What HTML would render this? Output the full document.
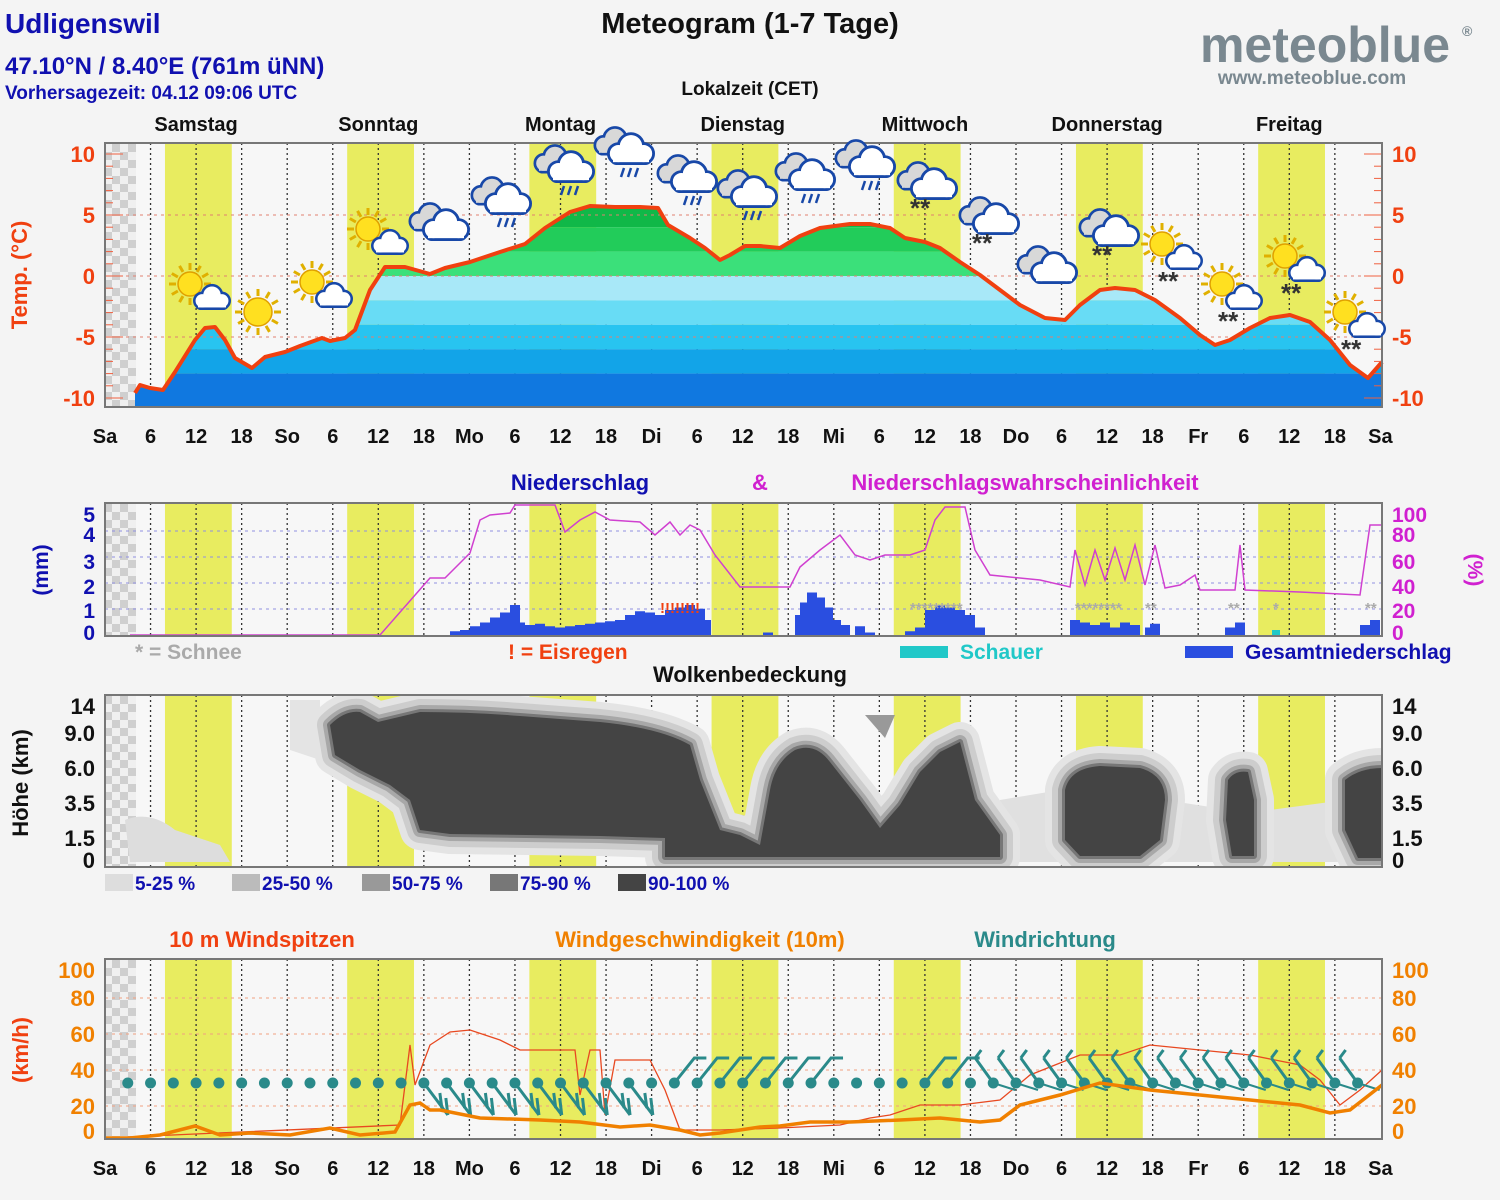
<!DOCTYPE html>
<html><head><meta charset="utf-8">
<style>
html,body{margin:0;padding:0;background:#f4f4f4;}
svg{display:block;font-family:"Liberation Sans",Arial,sans-serif;font-weight:bold;}
</style></head>
<body>
<svg id="s" width="1500" height="1200" viewBox="0 0 1500 1200" xmlns="http://www.w3.org/2000/svg">
<defs>
<pattern id="chk" width="16" height="16" patternUnits="userSpaceOnUse">
<rect width="16" height="16" fill="#f0f0f0"/><rect width="8" height="8" fill="#cfcfcf"/><rect x="8" y="8" width="8" height="8" fill="#cfcfcf"/>
</pattern>
<clipPath id="cc"><rect x="105" y="695" width="1277" height="172"/></clipPath>
</defs>
<rect width="1500" height="1200" fill="#f4f4f4"/>
<text x="5" y="33" font-size="28" fill="#1010b0">Udligenswil</text>
<text x="5" y="74" font-size="24" fill="#1010b0">47.10°N / 8.40°E (761m üNN)</text>
<text x="5" y="99" font-size="19" fill="#1010b0">Vorhersagezeit: 04.12 09:06 UTC</text>
<text x="750" y="33" font-size="29" text-anchor="middle" fill="#111">Meteogram (1-7 Tage)</text>
<text x="750" y="95" font-size="19" text-anchor="middle" fill="#111">Lokalzeit (CET)</text>
<text x="1325" y="62" font-size="50" text-anchor="middle" fill="#7a8890" font-weight="bold">meteoblue</text>
<text x="1462" y="36" font-size="14" fill="#7a8890">®</text>
<text x="1312" y="84" font-size="19" text-anchor="middle" fill="#7a8890">www.meteoblue.com</text>
<g id="g"></g>
</svg>
<script>
var NS="http://www.w3.org/2000/svg",G=document.getElementById('g');
function el(t,a,txt,par){var e=document.createElementNS(NS,t);for(var k in a)e.setAttribute(k,a[k]);if(txt!==undefined&&txt!==null)e.textContent=txt;(par||G).appendChild(e);return e;}
var X0=105,X1=1382,D=182.2,H=D/24;
function hx(h){return X0+h*H;}
var panels=[[143,407],[503,636],[695,867],[959,1139]];
var days=["Samstag","Sonntag","Montag","Dienstag","Mittwoch","Donnerstag","Freitag"];
var ab=["Sa","So","Mo","Di","Mi","Do","Fr","Sa"];
function frame(p,i){
 var y0=p[0],y1=p[1];
 el('rect',{x:X0,y:y0,width:X1-X0,height:y1-y0,fill:'#f7f7f7'});
 for(var d=0;d<7;d++){el('rect',{x:hx(d*24+7.9),y:y0,width:8.8*H,height:y1-y0,fill:'#e8ec60'});}
 el('rect',{x:X0,y:y0,width:31,height:y1-y0,fill:'url(#chk)'});
 for(var h=6;h<168;h+=6){el('line',{x1:hx(h),x2:hx(h),y1:y0,y2:y1,stroke:'#333','stroke-width':1.3,'stroke-dasharray':'2,3'});}
}
function border(p){el('rect',{x:X0,y:p[0],width:X1-X0,height:p[1]-p[0],fill:'none',stroke:'#777','stroke-width':2});}
function hdash(y,c){el('line',{x1:X0,x2:X1,y1:y,y2:y,stroke:c,'stroke-width':1,'stroke-dasharray':'3,4'});}
function xlabels(y){for(var h=0;h<=168;h+=6){var t=(h%24==0)?ab[h/24]:String(h%24);el('text',{x:hx(h),y:y,'font-size':20,'text-anchor':'middle',fill:'#111'},t);}}
function pts(a){return a.map(function(p){return p[0]+','+p[1]}).join(' ');}
panels.forEach(frame);
for(var d=0;d<7;d++)el('text',{x:hx(d*24+12),y:131,'font-size':20,'text-anchor':'middle',fill:'#111'},days[d]);
// ===== Temperature
function ty(t){return 276-12.2*t;}
var T=[[135,393],[140,385],[150,388],[163,390],[175,372],[195,340],[205,328],[215,327],[225,340],[235,358],[252,368],[265,357],[285,352],[300,346],[322,338],[330,341],[345,338],[355,330],[370,290],[385,267],[405,267],[430,274],[445,268],[470,262],[500,252],[525,244],[545,228],[570,212],[590,206],[615,207],[640,207],[658,208],[668,225],[690,238],[705,248],[720,260],[730,255],[745,246],[760,246],[780,248],[800,236],[820,228],[850,224],[870,224],[890,228],[905,238],[925,242],[940,248],[960,262],[980,275],[1000,290],[1020,305],[1045,318],[1065,320],[1080,305],[1100,290],[1115,288],[1135,290],[1155,300],[1180,318],[1200,335],[1215,345],[1230,340],[1250,328],[1270,318],[1290,315],[1310,322],[1330,340],[1350,365],[1368,378],[1382,362]];
var cp=document.createElementNS(NS,'clipPath');cp.id='tc';var pp=document.createElementNS(NS,'polygon');
pp.setAttribute('points',pts(T.concat([[1382,407],[135,407]])));cp.appendChild(pp);document.querySelector('defs').appendChild(cp);
var tg=el('g',{'clip-path':'url(#tc)'});
var bands=[[10,6,'#08a840'],[6,4,'#10b848'],[4,2,'#22cc5a'],[2,0,'#3be07a'],[0,-2,'#a8e8f8'],[-2,-4,'#68dcf5'],[-4,-6,'#28c4f0'],[-6,-8,'#12a4e8'],[-8,-12,'#1078e0']];
bands.forEach(function(b){el('rect',{x:105,y:ty(b[0]),width:1280,height:ty(b[1])-ty(b[0]),fill:b[2]},null,tg);});
[5,0,-5].forEach(function(t){hdash(ty(t),'#e08070');});
el('polyline',{points:pts(T),fill:'none',stroke:'#f04010','stroke-width':4,'stroke-linejoin':'round'});
for(var t=-10;t<=10;t++){el('line',{x1:X0,x2:X0+(t%5==0?18:8),y1:ty(t),y2:ty(t),stroke:'#f06040','stroke-width':1});el('line',{x1:X1,x2:X1-(t%5==0?18:8),y1:ty(t),y2:ty(t),stroke:'#f06040','stroke-width':1});}
border(panels[0]);
[10,5,0,-5,-10].forEach(function(t){el('text',{x:95,y:ty(t)+8,'font-size':22,'text-anchor':'end',fill:'#f04010'},String(t));el('text',{x:1392,y:ty(t)+8,'font-size':22,fill:'#f04010'},String(t));});
el('text',{x:0,y:0,'font-size':22,fill:'#f04010','text-anchor':'middle',transform:'translate(27,275) rotate(-90)'},'Temp. (°C)');
xlabels(443);
// icons
function sun(x,y,r){for(var i=0;i<12;i++){var a=i*Math.PI/6;el('line',{x1:x+Math.cos(a)*(r+2),y1:y+Math.sin(a)*(r+2),x2:x+Math.cos(a)*(r+9),y2:y+Math.sin(a)*(r+9),stroke:'#e0b000','stroke-width':3});}
 el('circle',{cx:x,cy:y,r:r,fill:'#ffe020',stroke:'#e0a000','stroke-width':1.5});}
function cloud(x,y,s,gray){var f=gray?'#d8d8d8':'#fff';
 [[-14,4,11],[0,-4,14],[14,4,11]].forEach(function(c){el('circle',{cx:x+c[0]*s,cy:y+c[1]*s,r:c[2]*s,fill:f,stroke:'#1848a8','stroke-width':3});});
 el('rect',{x:x-22*s,y:y+2*s,width:44*s,height:13*s,rx:6*s,fill:f,stroke:'#1848a8','stroke-width':3});
 [[-14,4,9.5],[0,-4,12.5],[14,4,9.5]].forEach(function(c){el('circle',{cx:x+c[0]*s,cy:y+c[1]*s,r:c[2]*s,fill:f});});
 el('rect',{x:x-20*s,y:y+4*s,width:40*s,height:9.5*s,fill:f});}
function rain(x,y){for(var i=-1;i<=1;i++)el('line',{x1:x+i*7+2,y1:y,x2:x+i*7-1,y2:y+9,stroke:'#1848a8','stroke-width':2.5});}
function snow(x,y){el('text',{x:x-14,y:y+18,'font-size':26,fill:'#333'},'**');}
function dbl(x,y){cloud(x-10,y-4,0.8,true);cloud(x+6,y+4,0.9);}
var I=[['sc',200,290],['s',258,312],['sc',322,288],['sc',378,235],['c',440,222],['r',502,200],['r',565,168],['r',625,150],['r',688,178],['r',748,193],['r',806,176],['r',866,163],['n',928,185],['n',990,220],['c',1048,265],['n',1110,232],['scn',1172,250],['scn',1232,290],['scn',1295,262],['scn',1355,318]];
I.forEach(function(i){var t=i[0],x=i[1],y=i[2];
 if(t=='s'){sun(x,y,14);}
 else if(t.indexOf('sc')==0){sun(x-10,y-6,12);cloud(x+12,y+8,0.7);if(t=='scn')snow(x,y+22);}
 else if(t=='c'){dbl(x,y);}
 else if(t=='r'){dbl(x,y-4);rain(x+4,y+18);}
 else if(t=='n'){dbl(x,y-4);snow(x-4,y+14);}
});
// ===== Precip
function py(p){return 635-p*1.3;}
[20,40,60,80].forEach(function(p){hdash(py(p),'#9090e0');});
var bars=[[455,0.15],[465,0.2],[475,0.35],[485,0.5],[495,0.7],[505,0.9],[515,1.2],[520,0.5],[530,0.4],[540,0.45],[550,0.35],[560,0.3],[570,0.35],[580,0.4],[590,0.45],[600,0.5],[610,0.55],[620,0.6],[630,0.8],[640,0.95],[650,0.9],[660,0.8],[670,1.0],[680,1.1],[690,1.2],[700,1.05],[706,0.6],[768,0.1],[800,0.8],[805,1.3],[812,1.7],[820,1.5],[828,1.1],[836,0.6],[845,0.4],[860,0.35],[870,0.1],[910,0.15],[920,0.3],[930,1.0],[940,1.2],[950,1.1],[960,1.0],[970,0.8],[980,0.3],[1075,0.6],[1085,0.5],[1095,0.4],[1105,0.5],[1115,0.3],[1125,0.5],[1135,0.4],[1150,0.3],[1155,0.45],[1230,0.3],[1240,0.5],[1365,0.4],[1375,0.6]];
bars.forEach(function(b){el('rect',{x:b[0]-5,y:635-b[1]*25,width:10,height:b[1]*25,fill:'#2a4ee0'});});
el('rect',{x:1272,y:630,width:8,height:5,fill:'#20c8c8'});
var PP=[[130,635],[380,635],[430,578],[445,578],[470,553],[480,520],[490,515],[510,513],[515,505],[555,505],[565,532],[580,520],[595,512],[610,520],[640,522],[655,535],[670,522],[680,535],[690,525],[700,530],[715,555],[740,587],[790,587],[800,567],[820,550],[840,535],[855,555],[870,560],[885,555],[910,555],[925,550],[935,520],[945,507],[965,507],[975,550],[990,575],[1040,580],[1070,587],[1075,550],[1085,585],[1095,550],[1105,580],[1115,548],[1125,580],[1135,545],[1145,585],[1155,545],[1165,588],[1180,585],[1195,575],[1200,590],[1235,590],[1240,545],[1245,590],[1300,592],[1360,595],[1370,525],[1382,525]];
el('polyline',{points:pts(PP),fill:'none',stroke:'#d040d0','stroke-width':1.5});
el('text',{x:660,y:613,'font-size':15,fill:'#f04010'},'!!!!!!!!');
[[910,'*********'],[1075,'********'],[1145,'**'],[1228,'**'],[1273,'*'],[1365,'**']].forEach(function(s){el('text',{x:s[0],y:613,'font-size':15,fill:'#aaa'},s[1]);});
border(panels[1]);
[[5,515],[4,535],[3,562],[2,587],[1,611],[0,633]].forEach(function(a){el('text',{x:95,y:a[1]+7,'font-size':21,'text-anchor':'end',fill:'#1010b0'},String(a[0]));});
[[100,515],[80,535],[60,562],[40,587],[20,611],[0,633]].forEach(function(a){el('text',{x:1392,y:a[1]+7,'font-size':21,fill:'#d020d0'},String(a[0]));});
el('text',{x:0,y:0,'font-size':21,fill:'#1010b0','text-anchor':'middle',transform:'translate(48,570) rotate(-90)'},'(mm)');
el('text',{x:0,y:0,'font-size':21,fill:'#d020d0','text-anchor':'middle',transform:'translate(1468,570) rotate(90)'},'(%)');
el('text',{x:580,y:490,'font-size':22,'text-anchor':'middle',fill:'#1010b0'},'Niederschlag');
el('text',{x:760,y:490,'font-size':22,'text-anchor':'middle',fill:'#d020d0'},'&');
el('text',{x:1025,y:490,'font-size':22,'text-anchor':'middle',fill:'#d020d0'},'Niederschlagswahrscheinlichkeit');
el('text',{x:135,y:659,'font-size':21,fill:'#aaa'},'* = Schnee');
el('text',{x:508,y:659,'font-size':21,fill:'#f04010'},'! = Eisregen');
el('rect',{x:900,y:646,width:48,height:12,fill:'#20c8c8'});el('text',{x:960,y:659,'font-size':21,fill:'#20c8c8'},'Schauer');
el('rect',{x:1185,y:646,width:48,height:12,fill:'#2a4ee0'});el('text',{x:1245,y:659,'font-size':21,fill:'#1010b0'},'Gesamtniederschlag');
// ===== Clouds
el('text',{x:750,y:682,'font-size':22,'text-anchor':'middle',fill:'#111'},'Wolkenbedeckung');
var cl=el('g',{'clip-path':'url(#cc)'});
function blob(d){[[40,'#e4e4e4'],[26,'#cdcdcd'],[14,'#a8a8a8'],[6,'#777']].forEach(function(s){el('path',{d:d,fill:s[1],stroke:s[1],'stroke-width':s[0],'stroke-linejoin':'round'},null,cl);});el('path',{d:d,fill:'#444'},null,cl);}
el('path',{d:'M125 820 Q150 810 175 830 L220 845 L230 862 L130 862 Z',fill:'#ddd'},null,cl);
el('path',{d:'M500 846 h25 v8 h-25z M540 840 h40 v8 h-40z',fill:'#ddd'},null,cl);
el('path',{d:'M290 700 L320 700 L320 760 L290 750 Z',fill:'#e4e4e4'},null,cl);
el('path',{d:'M1000 800 L1060 790 L1060 862 L1000 862 Z M1165 800 L1230 810 L1230 862 L1165 862 Z M1270 810 L1345 800 L1345 862 L1270 862 Z',fill:'#e0e0e0'},null,cl);
blob('M330 725 Q345 710 360 712 L378 722 L420 712 Q470 712 520 716 L600 722 Q660 728 690 745 L700 780 L720 830 L740 835 L760 845 L770 790 Q775 762 795 750 Q815 742 830 762 L860 800 L880 828 L900 805 L920 772 L940 752 L960 742 L975 800 L1000 835 L1000 857 L665 857 L665 838 L600 836 L450 834 L420 830 L410 800 L390 785 L360 770 L335 755 Z');
blob('M1065 790 Q1070 768 1100 766 L1140 768 Q1165 775 1165 800 L1160 840 L1140 856 L1080 856 L1065 840 Z');
blob('M1228 780 Q1235 770 1248 772 L1254 800 L1254 856 L1232 856 L1226 820 Z');
blob('M1345 780 Q1360 768 1382 768 L1382 858 L1358 858 L1345 830 Z');
el('path',{d:'M865 715 L895 715 L885 738 Z',fill:'#999'},null,cl);
border(panels[2]);
[[14,706],[9.0,733],[6.0,768],[3.5,803],[1.5,838],[0,860]].forEach(function(a,i){var s=i==0?'14':(i==5?'0':a[0].toFixed(1));el('text',{x:95,y:a[1]+8,'font-size':22,'text-anchor':'end',fill:'#111'},s);el('text',{x:1392,y:a[1]+8,'font-size':22,fill:'#111'},s);});
el('text',{x:0,y:0,'font-size':22,fill:'#111','text-anchor':'middle',transform:'translate(28,783) rotate(-90)'},'Höhe (km)');
[['#ddd','5-25 %',105],['#bbb','25-50 %',232],['#999','50-75 %',362],['#777','75-90 %',490],['#444','90-100 %',618]].forEach(function(a){el('rect',{x:a[2],y:874,width:28,height:17,fill:a[0]});el('text',{x:a[2]+30,y:890,'font-size':19,fill:'#1010b0'},a[1]);});
// ===== Wind
[1106,1070,1034,998].forEach(function(y){hdash(y,'#f0a080');});
var WS=[[105,1138],[130,1138],[160,1135],[195,1126],[220,1135],[250,1133],[290,1135],[330,1128],[360,1135],[395,1132],[410,1105],[420,1103],[430,1110],[440,1110],[480,1118],[540,1120],[580,1122],[620,1127],[650,1125],[680,1130],[700,1135],[720,1133],[760,1127],[780,1126],[810,1122],[850,1122],[900,1120],[940,1118],[980,1122],[1000,1120],[1020,1105],[1060,1095],[1100,1083],[1150,1090],[1200,1095],[1250,1100],[1300,1105],[1330,1113],[1350,1110],[1382,1085]];
var WG=[[105,1138],[400,1125],[410,1045],[415,1085],[430,1045],[450,1032],[470,1030],[500,1040],[520,1050],[560,1050],[575,1050],[580,1095],[590,1050],[600,1050],[605,1115],[615,1060],[650,1060],[665,1090],[680,1130],[720,1130],[780,1128],[840,1125],[870,1118],[890,1115],[920,1105],[960,1105],[1000,1100],[1030,1075],[1080,1055],[1120,1055],[1150,1045],[1200,1050],[1250,1055],[1300,1065],[1320,1080],[1340,1105],[1360,1090],[1382,1070]];
el('polyline',{points:pts(WG),fill:'none',stroke:'#e84820','stroke-width':1.3});
for(var h=3;h<168;h+=3){var x=hx(h);
 if(x>=410&&x<=640){el('line',{x1:x,y1:1083,x2:x+24,y2:1115,stroke:'#2a8a8a','stroke-width':3});el('line',{x1:x+24,y1:1115,x2:x+22,y2:1098,stroke:'#2a8a8a','stroke-width':3});el('line',{x1:x+18,y1:1108,x2:x+16,y2:1093,stroke:'#2a8a8a','stroke-width':3});}
 else if((x>=665&&x<=830)||(x>=905&&x<=960)){el('polyline',{points:(x)+',1083 '+(x+20)+',1058 '+(x+32)+',1058',fill:'none',stroke:'#2a8a8a','stroke-width':3});}
 else if(x>=975){el('line',{x1:x,y1:1083,x2:x-18,y2:1058,stroke:'#2a8a8a','stroke-width':3});el('line',{x1:x-18,y1:1058,x2:x-12,y2:1050,stroke:'#2a8a8a','stroke-width':3});el('line',{x1:x,y1:1083,x2:x+22,y2:1090,stroke:'#2a8a8a','stroke-width':2});}
 el('circle',{cx:x,cy:1083,r:5.5,fill:'#2a8a8a'});}
el('polyline',{points:pts(WS),fill:'none',stroke:'#f08000','stroke-width':3.5});
border(panels[3]);
[[100,970],[80,998],[60,1034],[40,1070],[20,1106],[0,1131]].forEach(function(a){el('text',{x:95,y:a[1]+8,'font-size':22,'text-anchor':'end',fill:'#f08000'},String(a[0]));el('text',{x:1392,y:a[1]+8,'font-size':22,fill:'#f08000'},String(a[0]));});
el('text',{x:0,y:0,'font-size':22,fill:'#f04010','text-anchor':'middle',transform:'translate(28,1050) rotate(-90)'},'(km/h)');
el('text',{x:262,y:947,'font-size':22,'text-anchor':'middle',fill:'#f04010'},'10 m Windspitzen');
el('text',{x:700,y:947,'font-size':22,'text-anchor':'middle',fill:'#f08000'},'Windgeschwindigkeit (10m)');
el('text',{x:1045,y:947,'font-size':22,'text-anchor':'middle',fill:'#2a8a8a'},'Windrichtung');
xlabels(1175);
</script>
</body></html>
